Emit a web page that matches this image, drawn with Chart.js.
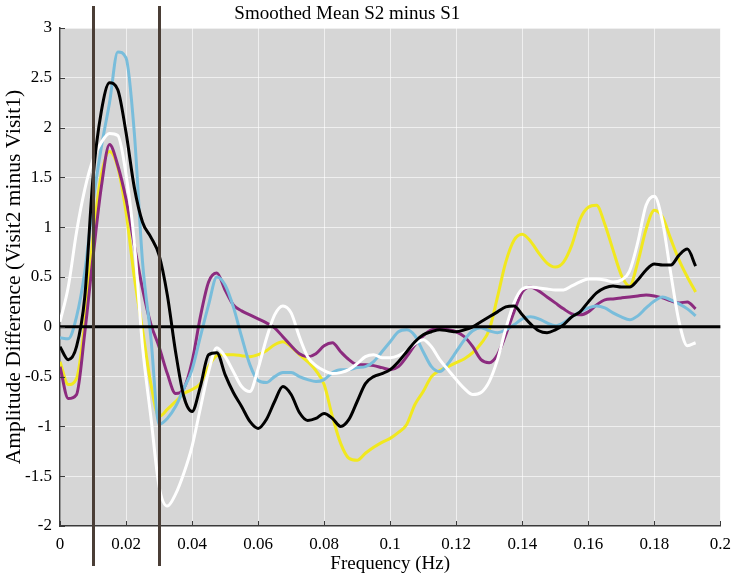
<!DOCTYPE html>
<html>
<head>
<meta charset="utf-8">
<script src="https://cdn.jsdelivr.net/npm/chart.js@4/dist/chart.umd.min.js"></script>
<style>
html,body{margin:0;padding:0;background:#ffffff;}
#wrap{width:739px;height:576px;position:relative;}
</style>
</head>
<body>
<div id="wrap"><canvas id="c" width="739" height="576"></canvas></div>
<script>
// ---- data ----
const freq = [
  0,0.0025,0.005,0.0075,0.01,0.0125,0.015,0.0175,0.02,0.0225,
  0.025,0.0275,0.03,0.0325,0.035,0.0375,0.04,0.0425,0.045,0.0475,
  0.05,0.0525,0.055,0.0575,0.06,0.0625,0.065,0.0675,0.07,0.0725,
  0.075,0.0775,0.08,0.0825,0.085,0.0875,0.09,0.0925,0.095,0.0975,
  0.1,0.1025,0.105,0.1075,0.11,0.1125,0.115,0.1175,0.12,0.1225,
  0.125,0.1275,0.13,0.1325,0.135,0.1375,0.14,0.1425,0.145,0.1475,
  0.15,0.1525,0.155,0.1575,0.16,0.1625,0.165,0.1675,0.17,0.1725,
  0.175,0.1775,0.18,0.1825,0.185,0.1875,0.19,0.1925
];
const yellowVals = [
  -0.35,-0.58,-0.52,0.04,0.9,1.52,1.76,1.6,1.15,0.5,
  -0.03,-0.57,-0.9,-0.83,-0.75,-0.67,-0.63,-0.57,-0.4,-0.29,
  -0.28,-0.28,-0.29,-0.3,-0.28,-0.24,-0.18,-0.15,-0.2,-0.28,
  -0.35,-0.44,-0.58,-0.9,-1.17,-1.32,-1.34,-1.27,-1.21,-1.16,
  -1.12,-1.06,-0.98,-0.78,-0.65,-0.5,-0.44,-0.4,-0.36,-0.32,
  -0.26,-0.17,-0.03,0.3,0.65,0.87,0.93,0.86,0.74,0.64,
  0.6,0.65,0.82,1.08,1.2,1.22,1.03,0.77,0.52,0.41,
  0.65,0.98,1.17,1.1,0.88,0.67,0.5,0.35
];
const purpleVals = [
  -0.40,-0.72,-0.68,-0.06,0.7,1.4,1.83,1.62,1.28,0.82,
  0.38,0.03,-0.2,-0.47,-0.67,-0.62,-0.35,0.1,0.45,0.54,
  0.37,0.22,0.16,0.12,0.08,0.04,-0.01,-0.1,-0.19,-0.27,
  -0.3,-0.27,-0.19,-0.16,-0.25,-0.33,-0.38,-0.38,-0.39,-0.41,
  -0.43,-0.4,-0.3,-0.18,-0.09,-0.03,-0.02,-0.03,-0.05,-0.1,
  -0.2,-0.33,-0.36,-0.28,-0.08,0.15,0.35,0.40,0.36,0.30,
  0.24,0.18,0.13,0.12,0.15,0.22,0.27,0.28,0.29,0.30,
  0.31,0.32,0.31,0.29,0.26,0.24,0.25,0.18
];
const blueVals = [
  -0.11,-0.12,0.1,0.55,1.25,1.8,2.25,2.76,2.70,1.95,
  0.65,-0.1,-0.98,-0.92,-0.8,-0.62,-0.43,-0.1,0.22,0.5,
  0.42,0.2,-0.1,-0.38,-0.54,-0.56,-0.5,-0.46,-0.46,-0.5,
  -0.53,-0.55,-0.53,-0.46,-0.43,-0.43,-0.41,-0.4,-0.35,-0.25,
  -0.15,-0.05,-0.03,-0.09,-0.25,-0.4,-0.45,-0.37,-0.25,-0.13,
  -0.04,-0.01,-0.04,-0.06,-0.03,0.02,0.08,0.10,0.08,0.04,
  0.01,0.04,0.10,0.15,0.19,0.21,0.19,0.14,0.10,0.07,
  0.11,0.19,0.26,0.30,0.27,0.23,0.18,0.11
];
const whiteVals = [
  0.05,0.4,0.95,1.38,1.68,1.85,1.94,1.92,1.53,0.85,
  -0.2,-0.9,-1.6,-1.8,-1.68,-1.47,-1.2,-0.82,-0.45,-0.21,
  -0.3,-0.45,-0.6,-0.65,-0.42,-0.12,0.12,0.21,0.14,-0.1,
  -0.3,-0.39,-0.44,-0.47,-0.46,-0.43,-0.37,-0.3,-0.28,-0.31,
  -0.31,-0.29,-0.24,-0.17,-0.13,-0.2,-0.33,-0.43,-0.53,-0.62,
  -0.68,-0.66,-0.55,-0.33,-0.02,0.24,0.38,0.40,0.39,0.38,
  0.37,0.37,0.41,0.45,0.48,0.48,0.47,0.45,0.47,0.56,
  0.85,1.22,1.31,1.05,0.53,0.05,-0.19,-0.16
];
const blackVals = [
  -0.20,-0.33,-0.20,0.30,1.5,2.16,2.45,2.38,1.95,1.4,
  1.05,0.9,0.72,0.32,-0.25,-0.7,-0.85,-0.6,-0.28,-0.26,
  -0.48,-0.66,-0.8,-0.95,-1.02,-0.93,-0.75,-0.6,-0.68,-0.86,
  -0.94,-0.92,-0.87,-0.92,-1.0,-0.93,-0.75,-0.57,-0.5,-0.47,
  -0.43,-0.35,-0.25,-0.15,-0.08,-0.05,-0.03,-0.04,-0.05,-0.03,
  0.0,0.05,0.1,0.15,0.2,0.21,0.12,0.03,-0.04,-0.06,
  -0.03,0.02,0.1,0.15,0.25,0.34,0.39,0.41,0.40,0.40,
  0.47,0.57,0.63,0.62,0.62,0.72,0.78,0.61
];
const markerFreqs = [0.01, 0.03];
const zeroLevel = 0;
const xTicks = [0,0.02,0.04,0.06,0.08,0.1,0.12,0.14,0.16,0.18,0.2];
const yTicks = [-2,-1.5,-1,-0.5,0,0.5,1,1.5,2,2.5,3];
const titleText = 'Smoothed Mean S2 minus S1';
const xTitle = 'Frequency (Hz)';
const yTitle = 'Amplitude Difference (Visit2 minus Visit1)';

// ---- styling ----
const FONT = "'Liberation Serif','Times New Roman',serif";
const toPts = arr => freq.map((f, i) => ({x: f, y: arr[i]}));
const mk = (label, arr, color, order) => ({
  label, data: toPts(arr), borderColor: color, backgroundColor: color,
  borderWidth: 3, pointRadius: 0, fill: false,
  cubicInterpolationMode: 'monotone', order
});

const decor = {
  id: 'decor',
  beforeDraw(chart) {
    const {ctx, chartArea: a} = chart;
    ctx.save();
    ctx.fillStyle = '#ffffff';
    ctx.fillRect(0, 0, chart.width, chart.height);
    ctx.fillStyle = '#d6d6d6';
    ctx.fillRect(a.left, a.top, a.right - a.left, a.bottom - a.top);
    ctx.restore();
  },
  afterDatasetsDraw(chart) {
    const {ctx, chartArea: a, scales: {x, y}} = chart;
    ctx.save();
    const y0 = y.getPixelForValue(zeroLevel);
    ctx.strokeStyle = '#000000';
    ctx.lineWidth = 3;
    ctx.beginPath(); ctx.moveTo(a.left, y0); ctx.lineTo(a.right, y0); ctx.stroke();
    ctx.strokeStyle = '#4a3e36';
    ctx.lineWidth = 3;
    markerFreqs.forEach(f => {
      const px = Math.round(x.getPixelForValue(f)) + 0.5;
      ctx.beginPath(); ctx.moveTo(px, 6); ctx.lineTo(px, chart.height - 10); ctx.stroke();
    });
    ctx.restore();
  },
  afterDraw(chart) {
    const {ctx, chartArea: a, scales: {x, y}} = chart;
    ctx.save();
    ctx.strokeStyle = '#3a3a3a';
    ctx.lineWidth = 1;
    yTicks.forEach(v => {
      const py = Math.round(y.getPixelForValue(v)) + 0.5;
      ctx.beginPath(); ctx.moveTo(a.left, py); ctx.lineTo(a.left + 5, py); ctx.stroke();
    });
    xTicks.forEach(v => {
      const px = Math.round(x.getPixelForValue(v)) + 0.5;
      ctx.beginPath(); ctx.moveTo(px, a.bottom); ctx.lineTo(px, a.bottom - 5); ctx.stroke();
    });
    ctx.fillStyle = '#000000';
    ctx.font = '19px ' + FONT;
    ctx.textAlign = 'center';
    ctx.textBaseline = 'middle';
    ctx.fillText(titleText, a.left + 0.435 * (a.right - a.left), 14);
    ctx.restore();
  }
};

new Chart(document.getElementById('c'), {
  type: 'line',
  data: {
    datasets: [
      mk('Series A', yellowVals, '#f1e81e', 5),
      mk('Series B', purpleVals, '#8c2b7f', 4),
      mk('Series C', blueVals, '#79bddb', 3),
      mk('Series D', whiteVals, '#ffffff', 2),
      mk('Series E', blackVals, '#000000', 1)
    ]
  },
  options: {
    responsive: false,
    animation: false,
    devicePixelRatio: 1,
    layout: {padding: {top: 28, right: 11, bottom: 0, left: 0}},
    plugins: {legend: {display: false}, title: {display: false}, tooltip: {enabled: false}},
    scales: {
      x: {
        type: 'linear', min: 0, max: 0.2,
        afterBuildTicks: s => { s.ticks = xTicks.map(v => ({value: v})); },
        afterFit: s => { s.height = 50; },
        ticks: {autoSkip: false, maxRotation: 0, padding: 8, color: '#000',
          font: {family: FONT, size: 17}, callback: v => String(v)},
        grid: {color: 'rgba(255,255,255,0.6)', lineWidth: 1, drawTicks: false},
        border: {display: true, color: '#3a3a3a', width: 1.5},
        title: {display: true, text: xTitle, color: '#000',
          font: {family: FONT, size: 19}, padding: {top: 0, bottom: 1}}
      },
      y: {
        type: 'linear', min: -2, max: 3,
        afterBuildTicks: s => { s.ticks = yTicks.map(v => ({value: v})); },
        afterFit: s => { s.width = 60; },
        ticks: {padding: 8, color: '#000', font: {family: FONT, size: 17},
          callback: v => String(v)},
        grid: {color: 'rgba(255,255,255,0.6)', lineWidth: 1, drawTicks: false},
        border: {display: true, color: '#3a3a3a', width: 1.5},
        title: {display: true, text: yTitle, color: '#000',
          font: {family: FONT, size: 21.5}, padding: {top: 1, bottom: 0}}
      }
    }
  },
  plugins: [decor]
});
</script>
</body>
</html>
